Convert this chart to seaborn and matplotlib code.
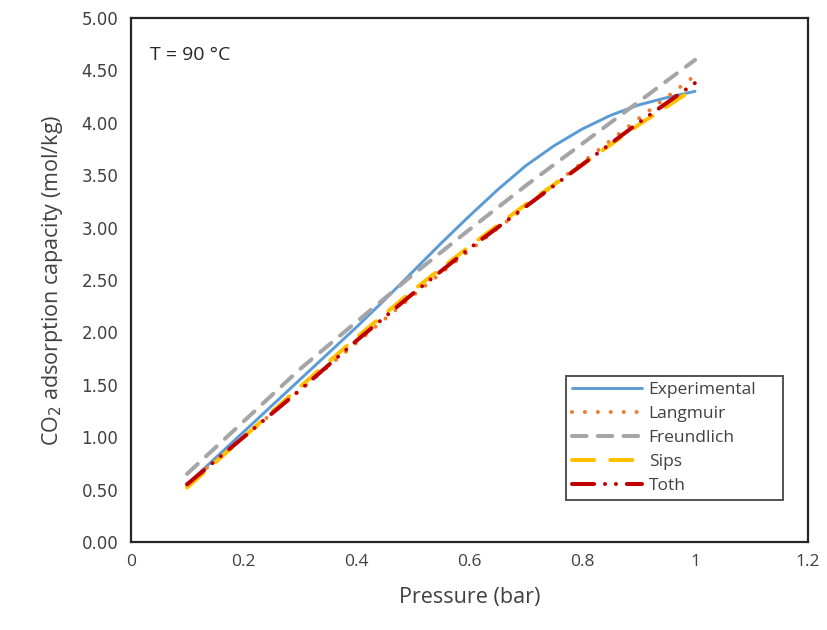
import matplotlib
matplotlib.use("Agg")
import matplotlib.pyplot as plt
import seaborn as sns
import pandas as pd

# ---- data ----
exp_p = [0.10, 0.15, 0.20, 0.25, 0.30, 0.35, 0.40, 0.45, 0.50, 0.55,
         0.60, 0.65, 0.70, 0.75, 0.80, 0.85, 0.90, 0.95, 1.00]
exp_q = [0.55, 0.80, 1.05, 1.30, 1.55, 1.80, 2.05, 2.31, 2.58, 2.85,
         3.11, 3.36, 3.59, 3.78, 3.94, 4.07, 4.17, 4.24, 4.30]

model_p = [0.1, 0.2, 0.3, 0.4, 0.5, 0.6, 0.7, 0.8, 0.9, 1.0]
langmuir = [0.55, 1.00, 1.45, 1.90, 2.35, 2.78, 3.20, 3.62, 4.04, 4.45]
freundlich = [0.65, 1.15, 1.65, 2.10, 2.55, 2.98, 3.40, 3.80, 4.20, 4.60]
sips = [0.52, 1.00, 1.48, 1.95, 2.40, 2.82, 3.22, 3.60, 3.98, 4.33]
toth = [0.55, 1.00, 1.45, 1.92, 2.37, 2.80, 3.20, 3.60, 4.00, 4.38]

x_ticks = [0, 0.2, 0.4, 0.6, 0.8, 1, 1.2]
x_tick_labels = ["0", "0.2", "0.4", "0.6", "0.8", "1", "1.2"]
y_ticks = [0, 0.5, 1, 1.5, 2, 2.5, 3, 3.5, 4, 4.5, 5]
y_tick_labels = [f"{v:.2f}" for v in y_ticks]

sns.set_style("white")
plt.rcParams['font.family'] = ['DejaVu Sans']

fig = plt.figure(figsize=(8.27, 6.30), dpi=100)
ax = fig.add_axes([0.158, 0.1397, 0.819, 0.8318])

txt = "#404040"

sns.lineplot(x=exp_p, y=exp_q, ax=ax, color="#5B9BD5", lw=2.1,
             label="Experimental", solid_capstyle="round")

series = [
    ("Langmuir", langmuir, "#ED7D31", (0, (0.01, 3.2))),
    ("Freundlich", freundlich, "#A5A5A5", (0, (3.6, 2.8))),
    ("Sips", sips, "#FFC000", (0, (5.5, 4.0))),
    ("Toth", toth, "#C00000", (0, (5.5, 2.7, 0.01, 2.7, 0.01, 2.7))),
]
for name, vals, col, ls in series:
    sns.lineplot(x=model_p, y=vals, ax=ax, color=col, lw=2.9,
                 label=name, linestyle=ls)
for l in ax.get_lines()[1:]:
    l.set_dash_capstyle("round")

ax.set_xlim(0, 1.2)
ax.set_ylim(0, 5)
ax.set_xticks(x_ticks)
ax.set_xticklabels(x_tick_labels, fontsize=12.5, color=txt, family="Open Sans")
ax.set_yticks(y_ticks)
ax.set_yticklabels(y_tick_labels, fontsize=12, color=txt)
ax.tick_params(axis="both", length=0, pad=9)

for s in ax.spines.values():
    s.set_visible(True)
    s.set_color("#262626")
    s.set_linewidth(1.6)

ax.set_xlabel("Pressure (bar)", fontsize=15.5, color=txt, family="Open Sans", labelpad=12)
ax.set_ylabel("CO$_2$ adsorption capacity (mol/kg)", fontsize=15.5, color=txt,
              family="Open Sans", labelpad=12)

ax.text(0.028, 0.93, "T = 90 °C", transform=ax.transAxes, fontsize=14,
        color="#262626", family="Open Sans", va="center", ha="left")

leg = ax.legend(loc="lower left", bbox_to_anchor=(0.643, 0.08, 0.32, 0.25),
                mode="expand", frameon=True, fancybox=False, fontsize=12.5,
                handlelength=4.0, handletextpad=0.4, labelspacing=0.45,
                borderpad=0.35, borderaxespad=0)
leg.get_frame().set_edgecolor("#262626")
leg.get_frame().set_linewidth(1.4)
for t in leg.get_texts():
    t.set_color(txt)
    t.set_family("Open Sans")

fig.savefig("out.png", dpi=100, facecolor="white")
